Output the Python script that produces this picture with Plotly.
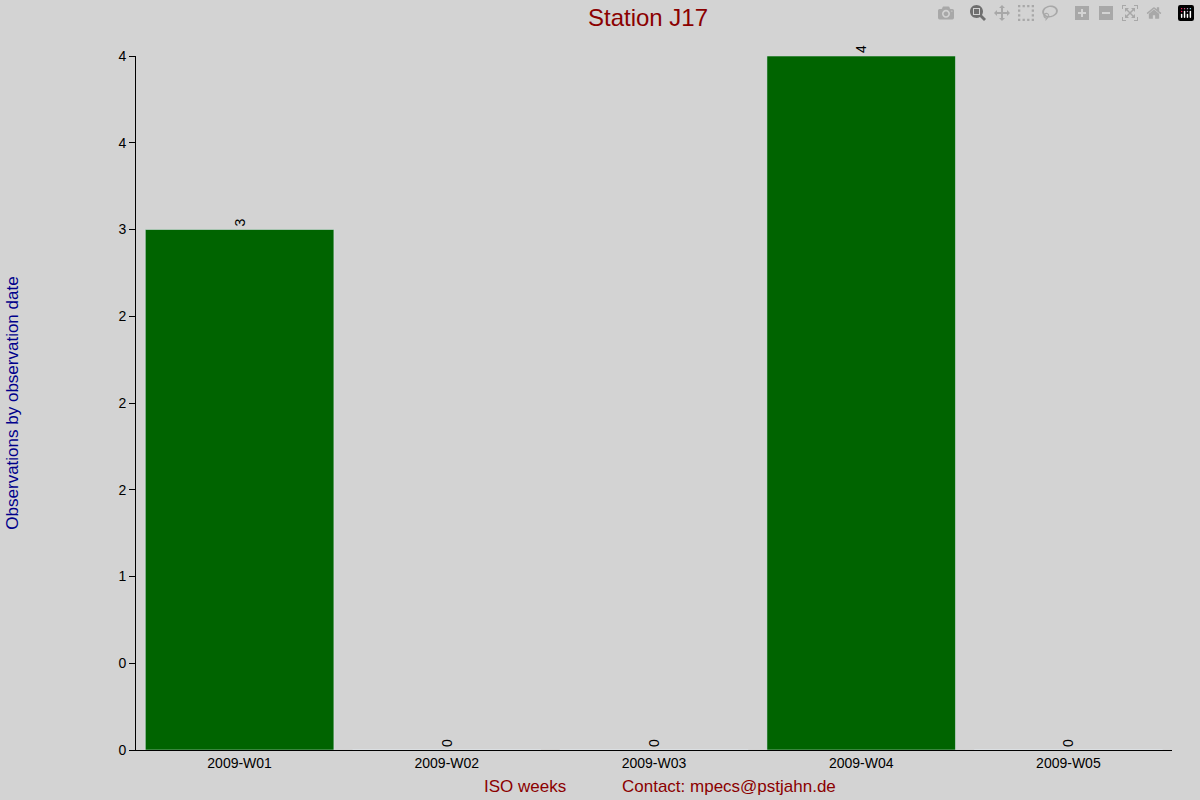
import plotly.graph_objects as go

weeks = ['2009-W01', '2009-W02', '2009-W03', '2009-W04', '2009-W05']
counts = [3, 0, 0, 4, 0]
tick_vals = [0, 0.5, 1, 1.5, 2, 2.5, 3, 3.5, 4]
tick_text = ['0', '0', '1', '2', '2', '2', '3', '4', '4']

fig = go.Figure()
fig.add_trace(go.Bar(x=weeks, y=counts, marker_color='#006400',
                     text=[str(c) for c in counts], textposition='outside',
                     textangle=-90, cliponaxis=False,
                     textfont=dict(color='black', size=14)))

fig.update_layout(
    width=1200, height=800,
    paper_bgcolor='#d3d3d3', plot_bgcolor='#d3d3d3',
    font=dict(family='Liberation Sans, Arial', size=14, color='black'),
    title=dict(text='Station J17', x=0.54, y=0.978, xanchor='center', yanchor='middle',
               font=dict(size=24, color='#8b0000')),
    margin=dict(l=125, r=28, t=56, b=50),
    bargap=0.09, showlegend=False,
)
fig.update_xaxes(showline=True, linecolor='black', ticks='', showgrid=False)
fig.update_yaxes(range=[0, 4], tickvals=tick_vals, ticktext=tick_text,
                 showline=True, linecolor='black', ticks='outside', ticklen=6,
                 tickcolor='black', showgrid=False, zeroline=False,
                 title=dict(text='Observations by observation date',
                            font=dict(color='#00008b', size=17), standoff=95))
fig.add_annotation(text='ISO weeks', xref='paper', yref='paper', x=0.375, y=-0.036,
                   showarrow=False, yanchor='top', font=dict(color='#8b0000', size=17))
fig.add_annotation(text='Contact: mpecs@pstjahn.de', xref='paper', yref='paper', x=0.572,
                   y=-0.036, showarrow=False, yanchor='top',
                   font=dict(color='#8b0000', size=17))

fig.write_html("out.html")

# remove default page margin so the figure fills the window
with open("out.html") as f:
    html = f.read()
html = html.replace("<head>", "<head><style>body{margin:0;}</style>", 1)
with open("out.html", "w") as f:
    f.write(html)
